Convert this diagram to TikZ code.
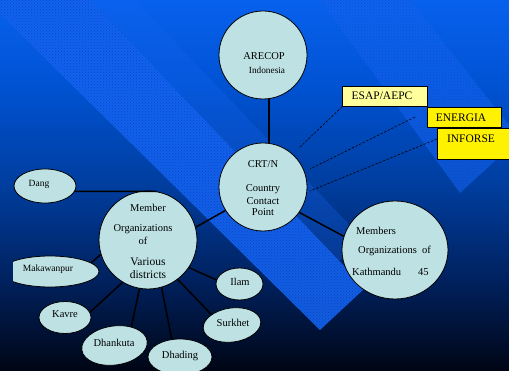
\documentclass[tikz,border=0pt]{standalone}
\usepackage{fontspec}
\setmainfont{Liberation Serif}
\usetikzlibrary{shapes.geometric,patterns}
\definecolor{cfill}{RGB}{190,226,228}
\definecolor{bandA}{RGB}{20,100,240}
\definecolor{bandDot}{RGB}{0,55,180}
\definecolor{pale}{RGB}{255,255,155}
\pgfdeclareverticalshading{bgshade}{100bp}{rgb(0bp)=(0,0.02,0.08); rgb(25bp)=(0,0.02,0.08); rgb(37.3bp)=(0,0.13,0.37); rgb(50bp)=(0,0.24,0.62); rgb(62.9bp)=(0,0.32,0.82); rgb(75bp)=(0.03,0.38,0.93); rgb(100bp)=(0.03,0.38,0.93)}
\begin{document}
\begin{tikzpicture}[x=1pt,y=1pt,
  bub/.style={circle,draw=black,line width=0.8pt,fill=cfill,inner sep=0pt},
  ell/.style={ellipse,draw=black,line width=0.8pt,fill=cfill,inner sep=0pt},
  ybox/.style={draw=black,line width=0.8pt,inner sep=0pt,anchor=north west},
  tx/.style={text=black,inner sep=0pt,font=\fontsize{10.5}{12}\selectfont},
  txs/.style={text=black,inner sep=0pt,font=\fontsize{9.5}{11}\selectfont},
  txl/.style={text=black,inner sep=0pt,font=\fontsize{11.5}{13}\selectfont},
  con/.style={line width=1.5pt,black},
  dashcon/.style={line width=0.6pt,black,dash pattern=on 2.5pt off 1.5pt},
  band/.style={pattern=crosshatch dots,pattern color=bandDot}
]
\useasboundingbox (0,0) rectangle (509,-371);
\shade[shading=bgshade] (0,0) rectangle (509,-371);
% decorative diagonal bands
\fill[bandA,opacity=0.3] (90,0) -- (339,-261) -- (362,-238) -- (135,0) -- cycle;
\fill[bandA,opacity=0.9] (-14,0) -- (320,-330) -- (365,-288) -- (90,0) -- cycle;
\fill[band,opacity=0.6] (-14,0) -- (320,-330) -- (365,-288) -- (90,0) -- cycle;
\fill[bandA,opacity=0.6] (320,0) -- (460,-193) -- (509,-148) -- (509,-125) -- (410,0) -- cycle;
\fill[band,opacity=0.4] (320,0) -- (460,-193) -- (509,-148) -- (509,-125) -- (410,0) -- cycle;

% shapes
\node[bub,minimum size=88pt] (AR) at (263,-55) {};
\node[bub,minimum size=88pt] (CRT) at (263,-187) {};
\node[ell,minimum width=106pt,minimum height=98pt] (KTM) at (395,-250) {};
\node[bub,minimum size=98pt] (MO) at (148,-240) {};
\node[ell,minimum width=62pt,minimum height=34pt] (Dang) at (45,-186) {};
\begin{scope}
\clip (13,-240) rectangle (120,-300);
\node[ell,minimum width=98pt,minimum height=31pt] (Mak) at (50,-271.5) {};
\end{scope}
\node[ell,minimum width=47pt,minimum height=32pt] (Ilam) at (239.5,-284) {};
\node[ell,minimum width=52pt,minimum height=32pt] (Kavre) at (65,-317.5) {};
\node[ell,minimum width=66pt,minimum height=39pt,rotate=8] (Dhank) at (114.5,-345.5) {};
\node[ell,minimum width=64pt,minimum height=36pt] (Dhad) at (180,-357) {};
\node[ell,minimum width=58pt,minimum height=34pt,rotate=8] (Surk) at (232,-325) {};

\node[ybox,fill=pale,minimum width=85pt,minimum height=20pt] (ES) at (342,-86) {};
\node[ybox,fill=yellow,minimum width=74pt,minimum height=20pt] (EN) at (427,-107) {};
\node[ybox,fill=yellow,minimum width=75pt,minimum height=31pt] (INF) at (437,-128) {};

% texts
\node[tx] (tAR) at (264,-56) {ARECOP};
\node[text=black,inner sep=0pt,font=\fontsize{9.3}{11}\selectfont] (tIn) at (267,-70) {Indonesia};
\node[tx] (tC1) at (263,-164) {CRT/N};
\node[tx] (tC2) at (263,-189) {Country};
\node[tx] (tC3) at (263,-201) {Contact};
\node[tx] (tC4) at (263,-212) {Point};
\node[tx] (tM1) at (148,-208) {Member};
\node[tx] (tM2) at (143,-229) {Organizations};
\node[tx] (tM3) at (143,-241) {of};
\node[txl] (tM4) at (148,-262) {Various};
\node[txl] (tM5) at (148,-275) {districts};
\node[tx,anchor=west] (tK1) at (356,-231) {Members};
\node[tx,anchor=west] (tK2) at (358,-251) {Organizations\ \ of};
\node[tx,anchor=west] (tK3) at (352,-272) {Kathmandu\hspace{17pt}45};
\node[txs] (tDang) at (39,-184) {Dang};
\node[txs] (tMak) at (48,-269) {Makawanpur};
\node[tx] (tIlam) at (240,-282) {Ilam};
\node[tx] (tKav) at (65,-314) {Kavre};
\node[tx] (tDhk) at (114,-343) {Dhankuta};
\node[tx] (tDhd) at (180,-356) {Dhading};
\node[tx] (tSur) at (233,-323) {Surkhet};
\node[txl] (tES) at (382,-96) {ESAP/AEPC};
\node[txl] (tEN) at (461,-118) {ENERGIA};
\node[txl] (tINF) at (471,-139) {INFORSE};

% connectors
\draw[con] (AR.-82) -- (CRT.82);
\draw[con] (CRT.212) -- (MO.15);
\draw[con] (CRT.-35) -- (KTM.165);
\draw[con] (Dang.-10) -- (MO.80);
\draw[con] (Mak.12) -- (MO.197);
\draw[con] (MO.-34) -- (Ilam.170);
\draw[con] (Kavre.12) -- (MO.239);
\draw[con] (Dhank.40) -- (MO.260);
\draw[con] (Dhad.115) -- (MO.-74);
\draw[con] (Surk.145) -- (MO.-53);

\coordinate (d1) at (299,-148);
\coordinate (d2a) at (415,-117);
\coordinate (d2b) at (310,-169);
\coordinate (d3a) at (437,-139);
\coordinate (d3b) at (310,-191);
\draw[dashcon] (ES.south west) -- (d1);
\draw[dashcon] (d2a) -- (d2b);
\draw[dashcon] (d3a) -- (d3b);
\end{tikzpicture}
\end{document}
